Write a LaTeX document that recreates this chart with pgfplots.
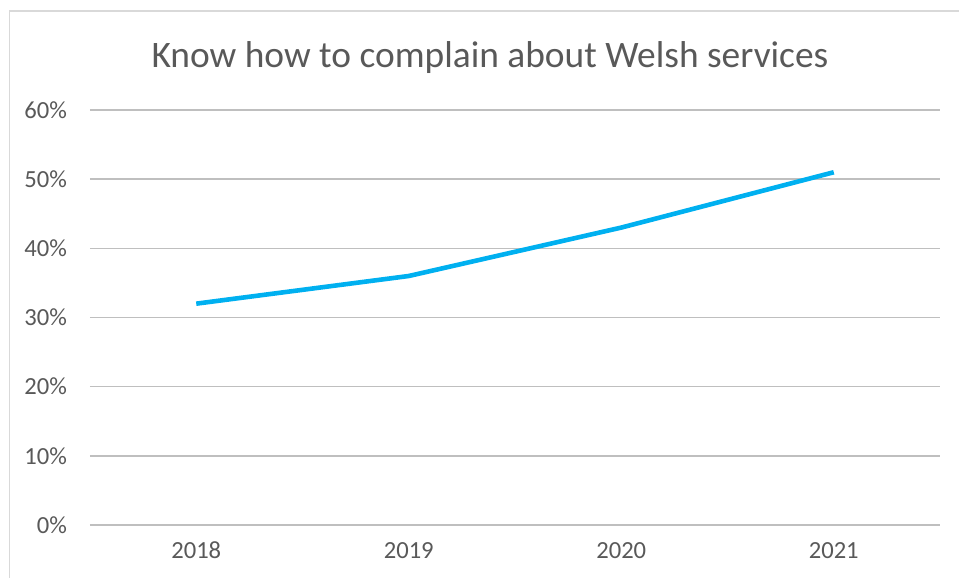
\documentclass[border=0pt]{standalone}
\usepackage{pgfplots}
\pgfplotsset{compat=1.18}
\usepackage{fontspec}
\setmainfont{Carlito}
\definecolor{txt}{HTML}{595959}
\definecolor{grid}{HTML}{D9D9D9}
\definecolor{ln}{HTML}{00B0F0}
\begin{document}
\begin{tikzpicture}[x=0.5pt,y=0.5pt]
\useasboundingbox (0,0) rectangle (959,578);
\draw[grid, line width=0.9pt] (9.5,0) -- (9.5,567) -- (959,567);
\node[txt, font=\fontsize{18.7}{22}\selectfont] at (490,520) {Know how to complain about Welsh services};
\begin{axis}[
  at={(45pt,26.5pt)}, anchor=south west,
  scale only axis, width=425pt, height=207.5pt,
  xmin=-0.5, xmax=3.5, ymin=0, ymax=60,
  xtick={0,1,2,3}, xticklabels={2018,2019,2020,2021},
  ytick={0,10,20,30,40,50,60},
  yticklabel={\pgfmathprintnumber{\tick}\%},
  /pgf/number format/assume math mode=true,
  ymajorgrids, xmajorgrids=false, grid style={grid, line width=0.75pt},
  axis line style={draw=none},
  tick style={draw=none},
  tick label style={txt, font=\fontsize{12.3}{14}\selectfont},
  yticklabel style={xshift=-8pt},
  xticklabel style={yshift=-5pt},
  clip=false,
]
\addplot[ln, line width=2.3pt] coordinates {(0,32) (1,36) (2,43) (3,51)};
\end{axis}
\end{tikzpicture}
\end{document}
